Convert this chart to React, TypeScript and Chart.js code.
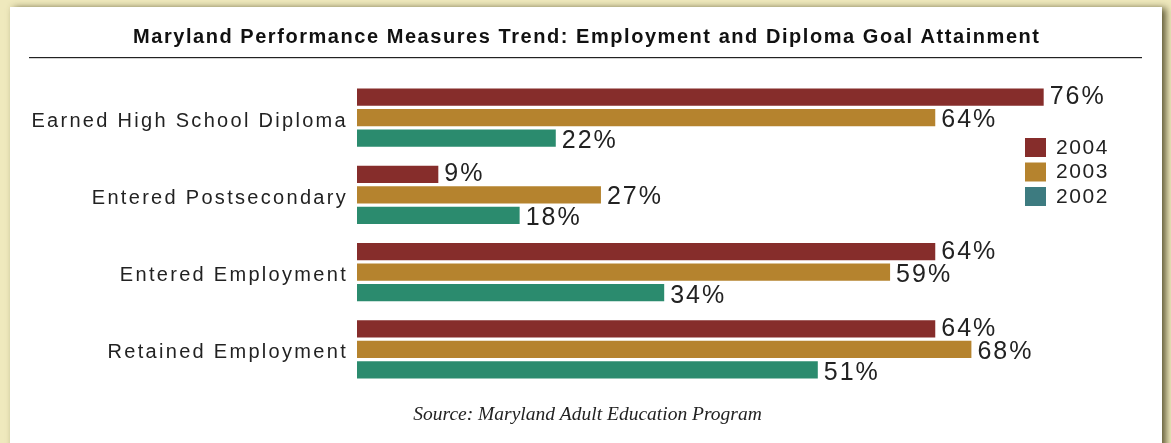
import React, { useEffect, useRef } from "react";
import { Chart, registerables } from "chart.js";

Chart.register(...registerables);

const categories = [
  "Earned High School Diploma",
  "Entered Postsecondary",
  "Entered Employment",
  "Retained Employment",
];
const seriesNames = ["2004", "2003", "2002"];
const values2004 = [76, 9, 64, 64];
const values2003 = [64, 27, 59, 68];
const values2002 = [22, 18, 34, 51];
const barColors = ["#862d2b", "#b5832e", "#2b8b6e"];
const legendColors = ["#862d2b", "#b5832e", "#3d7b80"];
const titleText =
  "Maryland Performance Measures Trend: Employment and Diploma Goal Attainment";
const sourceText = "Source: Maryland Adult Education Program";

const W = 1171;
const H = 443;
const SANS = "'Liberation Sans', Arial, Helvetica, sans-serif";
const SERIF = "'Liberation Serif', 'Times New Roman', serif";
const labelOffsets = [0, 2.5, 3];

const decor = {
  id: "decor",
  beforeDraw(chart: any) {
    const ctx = chart.ctx as CanvasRenderingContext2D;
    ctx.save();
    ctx.fillStyle = "#efe9bd";
    ctx.fillRect(0, 0, W, H);
    ctx.shadowColor = "rgba(70,65,30,0.85)";
    ctx.shadowBlur = 7;
    ctx.shadowOffsetX = 4;
    ctx.shadowOffsetY = 1;
    ctx.fillStyle = "#ffffff";
    ctx.fillRect(10, 7, 1152, 480);
    ctx.restore();
    (ctx as any).letterSpacing = "2.3px";
  },
  afterDraw(chart: any) {
    const ctx = chart.ctx as CanvasRenderingContext2D;
    ctx.save();
    // value labels
    (ctx as any).letterSpacing = "2px";
    ctx.font = `25px ${SANS}`;
    ctx.fillStyle = "#222";
    ctx.textAlign = "left";
    ctx.textBaseline = "middle";
    chart.data.datasets.forEach((ds: any, i: number) => {
      const meta = chart.getDatasetMeta(i);
      meta.data.forEach((bar: any, j: number) => {
        ctx.fillText(`${ds.data[j]}%`, bar.x + 6, bar.y + labelOffsets[i]);
      });
    });
    // legend
    (ctx as any).letterSpacing = "1.6px";
    ctx.font = `21px ${SANS}`;
    seriesNames.forEach((name, i) => {
      const top = 138 + i * 24.5;
      ctx.fillStyle = legendColors[i];
      ctx.fillRect(1025, top, 21, 19);
      ctx.fillStyle = "#222";
      ctx.fillText(name, 1056, top + 10);
    });
    // title
    (ctx as any).letterSpacing = "1.55px";
    ctx.font = `bold 20px ${SANS}`;
    ctx.fillStyle = "#111";
    ctx.textAlign = "left";
    ctx.textBaseline = "alphabetic";
    ctx.fillText(titleText, 133, 43.3);
    ctx.fillStyle = "#222";
    ctx.fillRect(29, 57, 1113, 1.2);
    // source
    (ctx as any).letterSpacing = "0px";
    ctx.textAlign = "center";
    ctx.font = `italic 19.5px ${SERIF}`;
    ctx.fillStyle = "#222";
    ctx.fillText(sourceText, 587.5, 420);
    ctx.restore();
  },
};

export default function App() {
  const ref = useRef<HTMLCanvasElement | null>(null);
  useEffect(() => {
    if (!ref.current) return;
    const seriesValues = [values2004, values2003, values2002];
    const chart = new Chart(ref.current, {
      type: "bar",
      data: {
        labels: categories,
        datasets: seriesNames.map((name, i) => ({
          label: name,
          data: seriesValues[i],
          backgroundColor: barColors[i],
          borderWidth: 0,
          categoryPercentage: 0.796,
          barPercentage: 0.83,
        })),
      },
      options: {
        indexAxis: "y",
        responsive: false,
        animation: false,
        devicePixelRatio: 1,
        layout: { padding: { left: 0, right: 46, top: 79, bottom: 55 } },
        plugins: {
          legend: { display: false },
          tooltip: { enabled: false },
          title: { display: false },
        },
        scales: {
          x: { display: false, min: 0, max: 85 },
          y: {
            grid: { display: false, drawTicks: false },
            border: { display: false },
            ticks: {
              font: { family: SANS, size: 20 },
              color: "#222",
              padding: 9,
              labelOffset: 3.5,
            },
            afterFit: (s: any) => {
              s.width = 357;
            },
          },
        },
      } as any,
      plugins: [decor],
    });
    return () => chart.destroy();
  }, []);
  return (
    <div style={{ position: "fixed", left: 0, top: 0, width: W, height: H }}>
      <canvas ref={ref} width={W} height={H} style={{ width: W, height: H }} />
    </div>
  );
}
